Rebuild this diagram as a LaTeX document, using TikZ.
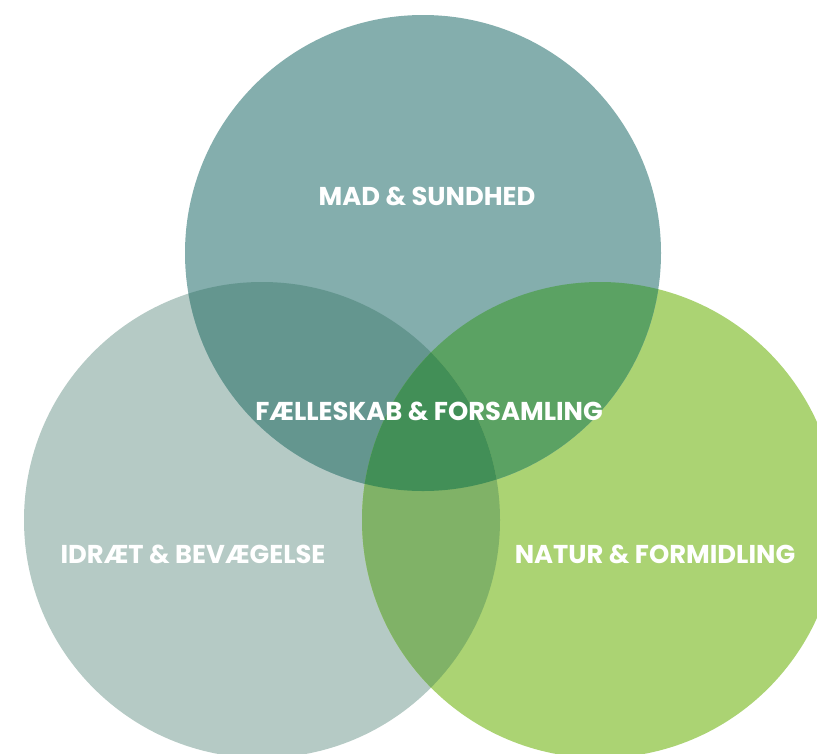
\documentclass[tikz,border=0pt]{standalone}
\usepackage{fontspec}
\setsansfont{Poppins}
\definecolor{madcol}{HTML}{84AEAD}
\definecolor{idrcol}{HTML}{B5CAC5}
\definecolor{natcol}{HTML}{ABD373}
\definecolor{madidr}{HTML}{64968F}
\definecolor{madnat}{HTML}{5BA263}
\definecolor{idrnat}{HTML}{80B267}
\definecolor{faelles}{HTML}{428F57}
\begin{document}
\begin{tikzpicture}[x=1pt,y=-1pt,
    areatext/.style={text=white,inner sep=0pt,anchor=base,
      font=\sffamily\bfseries\fontsize{25.8}{30}\selectfont}]
    \useasboundingbox (0,0) rectangle (817,753);
    \def\rad{238pt}
    \coordinate (mad) at (423,253);
    \coordinate (idraet) at (262,520);
    \coordinate (natur) at (600,520);
    % the three circles
    \fill[idrcol] (idraet) circle (\rad);
    \fill[natcol] (natur) circle (\rad);
    \fill[madcol] (mad) circle (\rad);
    % overlaps
    \begin{scope}
        \clip (mad) circle (\rad);
        \fill[madidr] (idraet) circle (\rad);
        \fill[madnat] (natur) circle (\rad);
    \end{scope}
    \begin{scope}
        \clip (idraet) circle (\rad);
        \fill[idrnat] (natur) circle (\rad);
        \clip (mad) circle (\rad);
        \fill[faelles] (natur) circle (\rad);
    \end{scope}
    % texts
    \node[areatext] (madtxt) at (427,205) {MAD \& SUNDHED};
    \node[areatext] (faellestxt) at (429,420) {FÆLLESKAB \& FORSAMLING};
    \node[areatext] (idrtxt) at (193,563) {IDRÆT \& BEVÆGELSE};
    \node[areatext] (nattxt) at (655,563) {NATUR \& FORMIDLING};
\end{tikzpicture}
\end{document}
